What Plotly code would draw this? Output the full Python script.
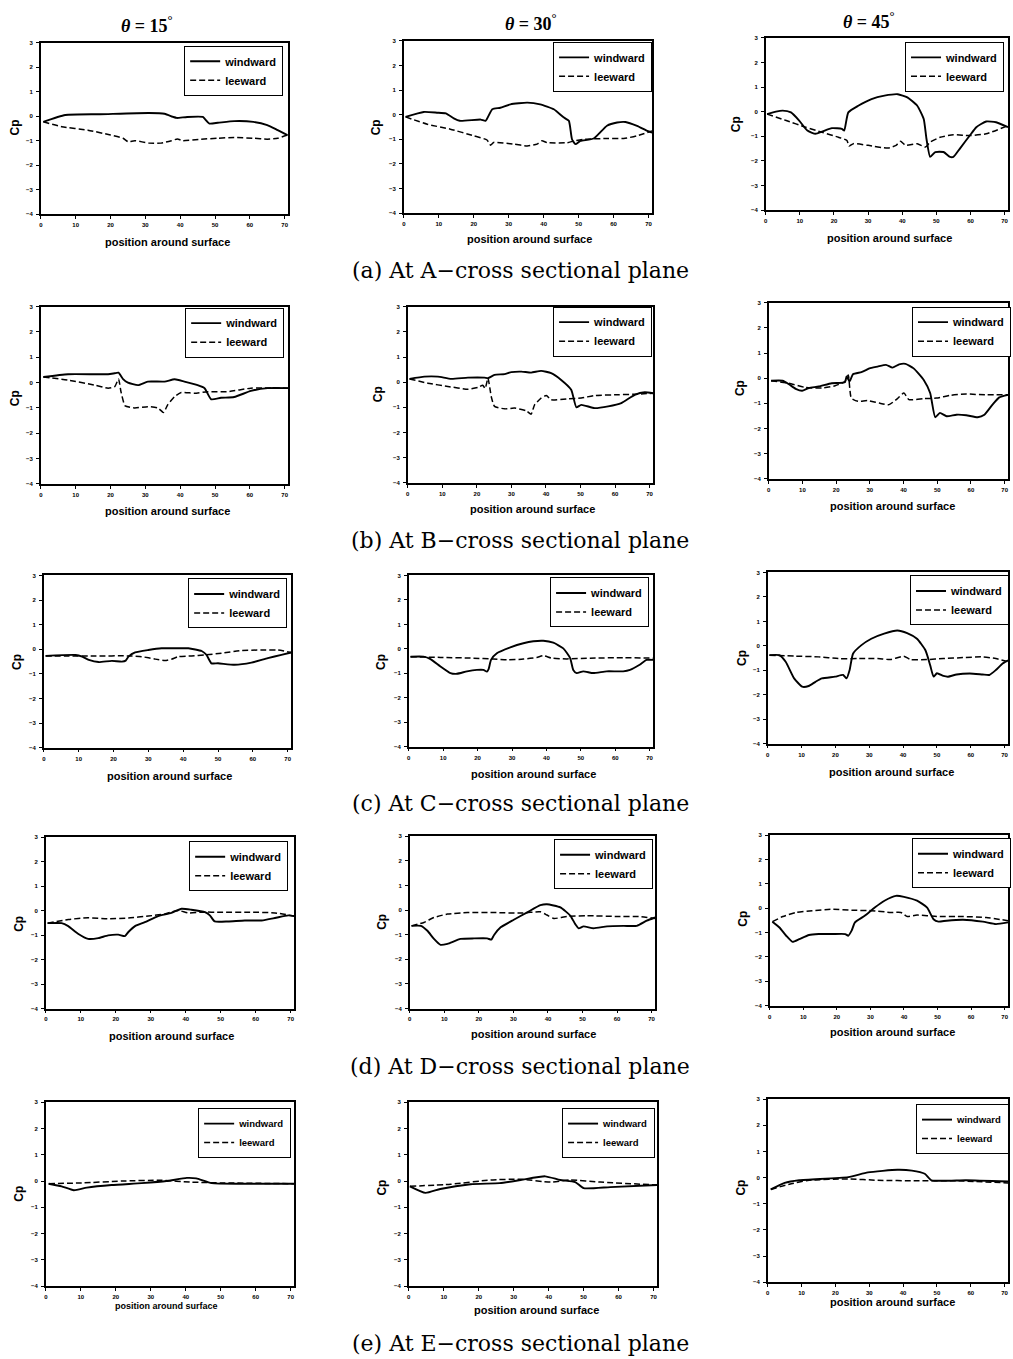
import plotly.graph_objects as go

W, H = 1013, 1359

# ---------------- data (Cp vs position around surface) ----------------
A15_WIND_X = [0.7, 7, 17, 31, 35.5, 38, 39, 42, 46.5, 47, 48.4, 50.8, 55.5, 61, 65, 68, 70.8]
A15_WIND_Y = [-0.23, 0.05, 0.08, 0.13, 0.1, -0.03, -0.07, -0.03, -0.03, -0.1, -0.3, -0.27, -0.2, -0.23, -0.36, -0.57, -0.77]
A15_LEE_X = [0.7, 6, 13.5, 20, 23.6, 25, 27, 31, 34.5, 37.5, 39.2, 40.7, 46, 50.8, 55.5, 61, 65, 68, 70.8]
A15_LEE_Y = [-0.23, -0.43, -0.57, -0.77, -0.9, -1.04, -1.0, -1.1, -1.1, -1.0, -0.93, -1.0, -0.94, -0.9, -0.87, -0.9, -0.94, -0.9, -0.77]

A30_WIND_X = [0.5, 5.7, 9.5, 12, 14.3, 16, 22, 23.4, 25.3, 27.6, 30.5, 35.3, 39, 42.9, 45.8, 47.2, 48.1, 49.1, 50.5, 54.3, 58.1, 61, 63.4, 66.7, 69.6, 71]
A30_WIND_Y = [-0.09, 0.11, 0.08, 0.05, -0.15, -0.25, -0.2, -0.25, 0.22, 0.28, 0.42, 0.49, 0.42, 0.22, -0.12, -0.25, -1.0, -1.2, -1.07, -0.97, -0.45, -0.32, -0.3, -0.46, -0.66, -0.73]
A30_LEE_X = [0.5, 6.7, 13.3, 20, 23.8, 24.8, 25.7, 31.4, 35.3, 38.1, 39.5, 41, 46.7, 48.6, 51.5, 58, 62.9, 66.7, 71]
A30_LEE_Y = [-0.09, -0.39, -0.59, -0.86, -1.03, -1.24, -1.13, -1.2, -1.27, -1.2, -1.06, -1.14, -1.14, -1.07, -1.0, -0.97, -0.97, -0.86, -0.66]

A45_WIND_X = [0.4, 3, 5, 7.4, 9.8, 12.2, 14.6, 16.5, 19.4, 22.3, 23, 24.2, 27.1, 31, 34.8, 38.7, 41.5, 44.4, 46.3, 47.1, 48.2, 49.7, 52.1, 54, 55, 56.9, 59.8, 61.7, 64.6, 67.5, 71]
A45_WIND_Y = [-0.1, 0, 0.04, -0.03, -0.36, -0.77, -0.9, -0.81, -0.67, -0.7, -0.77, -0.03, 0.24, 0.51, 0.65, 0.71, 0.58, 0.24, -0.3, -1.1, -1.84, -1.64, -1.64, -1.84, -1.84, -1.5, -0.97, -0.63, -0.4, -0.43, -0.63]
A45_LEE_X = [0.4, 6, 11.7, 16.5, 21.3, 23.8, 24.4, 25.7, 30, 35.8, 38.2, 39.5, 41, 44.4, 46.8, 48.2, 51.1, 55, 59.8, 64.6, 71]
A45_LEE_Y = [-0.1, -0.36, -0.63, -0.84, -1.04, -1.17, -1.4, -1.3, -1.37, -1.48, -1.37, -1.2, -1.37, -1.3, -1.44, -1.24, -1.04, -0.94, -0.97, -0.9, -0.57]

B15_WIND_X = [0.7, 7.8, 19.3, 21.2, 22.3, 23.6, 25, 27.9, 30.7, 35.5, 38.4, 41.2, 45, 47, 48.9, 51.7, 55.5, 60.3, 65.1, 71]
B15_WIND_Y = [0.22, 0.33, 0.33, 0.37, 0.39, 0.14, 0, -0.1, 0.04, 0.04, 0.13, 0.04, -0.1, -0.22, -0.66, -0.6, -0.57, -0.33, -0.22, -0.22]
B15_LEE_X = [0.7, 7.8, 15.5, 19.3, 21.2, 22.3, 23, 24.2, 26.9, 30.7, 33.6, 35.2, 36.4, 38.4, 40.3, 44.1, 47.9, 53.6, 60.3, 71]
B15_LEE_Y = [0.22, 0.1, -0.1, -0.22, -0.16, 0.14, -0.36, -0.92, -1.0, -0.95, -1.0, -1.18, -0.88, -0.55, -0.39, -0.42, -0.36, -0.36, -0.22, -0.22]

B30_WIND_X = [0.5, 4.8, 8.7, 12.6, 17.4, 22.2, 23.2, 25.1, 28, 30, 32.9, 35.7, 38.6, 41.5, 44.4, 47.3, 48.8, 50.2, 54.1, 58, 61.8, 65.7, 68.6, 71]
B30_WIND_Y = [0.13, 0.22, 0.22, 0.13, 0.18, 0.18, 0.16, 0.29, 0.32, 0.4, 0.42, 0.38, 0.45, 0.36, 0.09, -0.3, -1.0, -0.9, -1.03, -0.96, -0.83, -0.5, -0.4, -0.44]
B30_LEE_X = [0.5, 5.8, 11.6, 17.4, 20.3, 21.7, 22.4, 23.2, 24.2, 25.1, 28, 30.9, 34.3, 35.7, 36.7, 38.6, 40.1, 41.5, 46.4, 50.2, 54.1, 60.8, 65.7, 71]
B30_LEE_Y = [0.13, -0.04, -0.17, -0.28, -0.21, -0.12, -0.25, 0.16, -0.6, -0.96, -1.06, -1.03, -1.14, -1.27, -0.9, -0.63, -0.53, -0.7, -0.66, -0.63, -0.53, -0.5, -0.48, -0.44]

B45_WIND_X = [0.7, 4.1, 6, 8, 9.9, 11.9, 14.8, 18.7, 22.6, 23.1, 24, 25, 27.5, 29, 29.9, 32.3, 34.8, 36.7, 38.7, 40.6, 43, 46, 47.9, 49.4, 50.8, 52.8, 55.7, 58.6, 62, 64, 66.4, 68.4, 71]
B45_WIND_Y = [-0.1, -0.1, -0.24, -0.42, -0.5, -0.39, -0.33, -0.2, -0.16, 0.07, -0.13, 0.16, 0.24, 0.33, 0.39, 0.46, 0.53, 0.42, 0.55, 0.57, 0.39, -0.07, -0.59, -1.55, -1.38, -1.51, -1.45, -1.47, -1.55, -1.45, -1.05, -0.76, -0.66]
B45_LEE_X = [0.7, 6, 10.9, 15.8, 19.7, 22.6, 23.6, 24.5, 26.5, 29.4, 32.8, 35.7, 38.2, 40.1, 41.6, 46, 49.8, 53.8, 58.6, 64.4, 71]
B45_LEE_Y = [-0.1, -0.2, -0.37, -0.39, -0.3, -0.13, 0.13, -0.79, -0.92, -0.89, -0.99, -1.05, -0.81, -0.59, -0.85, -0.81, -0.79, -0.68, -0.63, -0.66, -0.66]

C15_WIND_X = [0.5, 9.1, 11, 12.9, 15.7, 19.5, 22.4, 23.5, 24.3, 26.2, 30, 33.8, 37.7, 41.5, 45.3, 46.7, 48.1, 50, 54.8, 59.6, 64.3, 68.2, 71]
C15_WIND_Y = [-0.27, -0.23, -0.3, -0.43, -0.52, -0.47, -0.5, -0.46, -0.3, -0.13, -0.03, 0.04, 0.04, 0.04, -0.07, -0.23, -0.57, -0.57, -0.63, -0.54, -0.36, -0.23, -0.13]
C15_LEE_X = [0.5, 7.1, 14.8, 24.3, 28.1, 32, 34.8, 36.7, 38.6, 42.4, 46.2, 51, 56.7, 62.4, 67.2, 71]
C15_LEE_Y = [-0.27, -0.27, -0.27, -0.27, -0.3, -0.4, -0.46, -0.4, -0.3, -0.27, -0.23, -0.16, -0.05, -0.03, -0.03, -0.13]

C30_WIND_X = [0.5, 4.3, 6.3, 9.2, 12.1, 14, 16.9, 19.8, 21.7, 22.7, 23.2, 23.9, 25.6, 29.5, 33.3, 36.2, 39.1, 42, 44.9, 46.9, 47.8, 48.8, 50.7, 53.6, 57.5, 62.3, 64.3, 67.1, 69.1, 71]
C30_WIND_Y = [-0.32, -0.32, -0.42, -0.72, -0.99, -1.02, -0.92, -0.86, -0.86, -0.93, -0.83, -0.45, -0.18, 0.06, 0.23, 0.31, 0.33, 0.25, 0.02, -0.38, -0.86, -0.99, -0.92, -0.99, -0.92, -0.92, -0.86, -0.65, -0.45, -0.45]
C30_LEE_X = [0.5, 9.2, 18.8, 24.6, 28.5, 33.3, 37.2, 39.1, 41.5, 45.9, 52.7, 62.3, 71]
C30_LEE_Y = [-0.32, -0.35, -0.38, -0.42, -0.45, -0.42, -0.35, -0.28, -0.38, -0.41, -0.38, -0.36, -0.38]

C45_WIND_X = [0.5, 3.4, 5.3, 7.8, 10.2, 12.1, 14.1, 16, 19.9, 22.3, 23.3, 24.2, 25.2, 27.6, 30.6, 34.4, 38.3, 41.2, 44.1, 46.6, 48, 49, 50, 51.9, 53.3, 55.8, 59.7, 63.5, 65.5, 67.4, 69.4, 71]
C45_WIND_Y = [-0.38, -0.38, -0.65, -1.33, -1.67, -1.64, -1.47, -1.33, -1.26, -1.19, -1.33, -0.99, -0.32, 0.02, 0.29, 0.5, 0.63, 0.52, 0.29, -0.18, -0.79, -1.26, -1.12, -1.23, -1.26, -1.17, -1.13, -1.17, -1.19, -0.99, -0.72, -0.59]
C45_LEE_X = [0.5, 8.2, 15, 20.9, 26.6, 32.5, 36.3, 40.2, 42.2, 47, 51.9, 57.7, 63.5, 67.4, 71]
C45_LEE_Y = [-0.38, -0.42, -0.45, -0.52, -0.52, -0.52, -0.56, -0.42, -0.56, -0.56, -0.52, -0.48, -0.45, -0.52, -0.65]

D15_WIND_X = [0.5, 4.5, 6.4, 9.2, 12.1, 15, 17.8, 20.7, 22.6, 23.6, 25.5, 28.3, 32.1, 35.9, 38.8, 41.6, 45.5, 46.9, 48.3, 52.1, 56.9, 61.7, 65.5, 69.3, 71]
D15_WIND_Y = [-0.51, -0.51, -0.63, -0.94, -1.15, -1.12, -1.01, -0.98, -1.04, -0.87, -0.63, -0.47, -0.22, -0.09, 0.08, 0.04, -0.06, -0.19, -0.44, -0.44, -0.4, -0.4, -0.3, -0.19, -0.22]
D15_LEE_X = [0.5, 6.4, 12.1, 17.8, 23.6, 29.3, 34, 37.8, 40.7, 44.5, 50.2, 57.8, 65.5, 71]
D15_LEE_Y = [-0.51, -0.36, -0.29, -0.33, -0.3, -0.22, -0.13, 0.01, -0.09, -0.06, -0.06, -0.06, -0.09, -0.22]

D30_WIND_X = [0.5, 3.2, 5.1, 7, 8.9, 10.9, 14.7, 18.6, 22.4, 23.6, 24.4, 26.3, 30.1, 34, 37.8, 39.7, 43.6, 46.5, 47.9, 48.9, 50.3, 53.2, 57.1, 61.9, 65.7, 68.6, 71]
D30_WIND_Y = [-0.64, -0.64, -0.84, -1.17, -1.41, -1.37, -1.17, -1.15, -1.15, -1.2, -1.01, -0.7, -0.39, -0.09, 0.2, 0.24, 0.11, -0.23, -0.57, -0.74, -0.66, -0.74, -0.66, -0.64, -0.64, -0.43, -0.3]
D30_LEE_X = [0.5, 4.1, 7, 10.9, 16.7, 24.4, 32.1, 37.8, 39.7, 41.7, 45.5, 51.3, 60.9, 66.7, 71]
D30_LEE_Y = [-0.64, -0.5, -0.3, -0.16, -0.1, -0.1, -0.12, -0.07, -0.2, -0.34, -0.26, -0.23, -0.26, -0.26, -0.34]

D45_WIND_X = [0.8, 2.9, 4.9, 6.8, 8.8, 11.7, 14.6, 18.6, 22.5, 23.4, 24.4, 25.4, 28.3, 31.3, 34.2, 37.6, 40, 43.9, 46.9, 48.8, 50.3, 52.7, 57.6, 63.5, 67.4, 71]
D45_WIND_Y = [-0.55, -0.79, -1.13, -1.38, -1.27, -1.1, -1.06, -1.06, -1.06, -1.13, -0.92, -0.58, -0.31, 0.03, 0.31, 0.51, 0.47, 0.31, 0.03, -0.45, -0.55, -0.51, -0.47, -0.55, -0.65, -0.58]
D45_LEE_X = [0.8, 3.9, 7.8, 12.7, 18.6, 24.4, 30.3, 36.1, 39.1, 41, 43.9, 49.8, 57.6, 64.5, 71]
D45_LEE_Y = [-0.55, -0.34, -0.17, -0.1, -0.04, -0.08, -0.1, -0.17, -0.17, -0.34, -0.28, -0.34, -0.34, -0.38, -0.51]

E15_WIND_X = [0.8, 4.5, 8, 11.7, 18.8, 27.4, 34.5, 40.3, 43, 47.4, 56, 71]
E15_WIND_Y = [-0.1, -0.2, -0.35, -0.25, -0.15, -0.08, 0.0, 0.12, 0.1, -0.08, -0.1, -0.1]
E15_LEE_X = [0.8, 10.3, 21.7, 33, 41.6, 50.1, 71]
E15_LEE_Y = [-0.1, -0.07, 0.0, 0.03, -0.04, -0.07, -0.1]

E30_WIND_X = [0.3, 4.8, 9, 17.7, 26, 32, 39, 43.3, 47.6, 50, 57.6, 71]
E30_WIND_Y = [-0.2, -0.45, -0.3, -0.12, -0.08, 0.04, 0.18, 0.04, -0.04, -0.27, -0.23, -0.15]
E30_LEE_X = [0.3, 12, 23.4, 32, 40.5, 46.2, 54.8, 71]
E30_LEE_Y = [-0.2, -0.12, 0.04, 0.07, -0.04, 0.04, -0.04, -0.15]

E45_WIND_X = [0.9, 5, 9.3, 23.8, 29.6, 38.3, 42.6, 46.4, 48.4, 58.6, 71]
E45_WIND_Y = [-0.45, -0.2, -0.1, 0.02, 0.2, 0.3, 0.27, 0.15, -0.1, -0.1, -0.15]
E45_LEE_X = [0.9, 6.4, 12.2, 23.8, 32.5, 44, 55.7, 71]
E45_LEE_Y = [-0.45, -0.25, -0.1, -0.05, -0.1, -0.12, -0.12, -0.2]

SERIES_NAMES = ["windward", "leeward"]
ANGLE_TITLES = ["<i>θ</i> = 15<sup>°</sup>", "<i>θ</i> = 30<sup>°</sup>", "<i>θ</i> = 45<sup>°</sup>"]
CAPTIONS = ["(a) At A\u2212cross sectional plane", "(b) At B\u2212cross sectional plane",
            "(c) At C\u2212cross sectional plane", "(d) At D\u2212cross sectional plane",
            "(e) At E\u2212cross sectional plane"]
X_TICKS = [0, 10, 20, 30, 40, 50, 60, 70]
Y_TICKS = [-4, -3, -2, -1, 0, 1, 2, 3]
X_LABEL = "position around surface"
Y_LABEL = "Cp"

PANELS = [
    (A15_WIND_X, A15_WIND_Y, A15_LEE_X, A15_LEE_Y),
    (A30_WIND_X, A30_WIND_Y, A30_LEE_X, A30_LEE_Y),
    (A45_WIND_X, A45_WIND_Y, A45_LEE_X, A45_LEE_Y),
    (B15_WIND_X, B15_WIND_Y, B15_LEE_X, B15_LEE_Y),
    (B30_WIND_X, B30_WIND_Y, B30_LEE_X, B30_LEE_Y),
    (B45_WIND_X, B45_WIND_Y, B45_LEE_X, B45_LEE_Y),
    (C15_WIND_X, C15_WIND_Y, C15_LEE_X, C15_LEE_Y),
    (C30_WIND_X, C30_WIND_Y, C30_LEE_X, C30_LEE_Y),
    (C45_WIND_X, C45_WIND_Y, C45_LEE_X, C45_LEE_Y),
    (D15_WIND_X, D15_WIND_Y, D15_LEE_X, D15_LEE_Y),
    (D30_WIND_X, D30_WIND_Y, D30_LEE_X, D30_LEE_Y),
    (D45_WIND_X, D45_WIND_Y, D45_LEE_X, D45_LEE_Y),
    (E15_WIND_X, E15_WIND_Y, E15_LEE_X, E15_LEE_Y),
    (E30_WIND_X, E30_WIND_Y, E30_LEE_X, E30_LEE_Y),
    (E45_WIND_X, E45_WIND_Y, E45_LEE_X, E45_LEE_Y),
]

# ---------------- layout geometry (pixels) ----------------
# plot boxes: left, right, top, bottom
BOXES = [
    (39, 287, 40, 212), (403, 652, 38, 211), (766, 1009, 35, 208),
    (39, 287, 305, 483), (407, 653, 305, 482), (769, 1009, 301, 478),
    (42, 290, 575, 748), (408, 653, 575, 747), (768, 1009, 572, 744),
    (44, 293, 838, 1010), (409, 655, 837, 1010), (770, 1009, 836, 1007),
    (44, 293, 1104, 1289), (408, 657, 1104, 1289), (768, 1009, 1101, 1285),
]
# legend box right/top
LEG_POS = [
    (282, 43), (652, 39), (1005, 39),
    (283, 306), (652, 305), (1012, 305),
    (286, 578), (649, 577), (1010, 575),
    (287, 842), (653, 840), (1012, 839),
    (290, 1110), (655, 1110), (1010, 1106),
]
XLAB_POS = [
    (166, 240), (529, 237), (890, 236),
    (166, 510), (532, 508), (893, 505),
    (168, 776), (533, 774), (892, 772),
    (170, 1038), (533, 1036), (893, 1034),
    (165, 1309), (536, 1313), (893, 1305),
]
YLAB_POS = [
    (13, 125), (376, 125), (737, 122),
    (13, 397), (377, 393), (740, 387),
    (15, 662), (380, 662), (742, 658),
    (17, 925), (381, 923), (743, 920),
    (17, 1196), (381, 1190), (741, 1190),
]
TITLE_POS = [(145, 22), (531, 20), (870, 18)]
CAPTION_Y = [269, 540, 804, 1068, 1346]


def px(x):
    return x / W


def py(y):
    return 1 - y / H


fig = go.Figure()
annotations = []
layout = {}
AX_FONT = "Liberation Sans, Arial, sans-serif"

for i, (wx, wy, lx, ly) in enumerate(PANELS):
    n = i + 1
    sfx = "" if n == 1 else str(n)
    legname = "legend" + sfx
    small = i >= 12
    fig.add_trace(go.Scatter(x=wx, y=wy, mode="lines", name=SERIES_NAMES[0],
                             line=dict(color="black", width=1.9, shape="spline", smoothing=0.5),
                             xaxis="x" + sfx, yaxis="y" + sfx, legend=legname))
    fig.add_trace(go.Scatter(x=lx, y=ly, mode="lines", name=SERIES_NAMES[1],
                             line=dict(color="black", width=1.5, dash="6px,3px",
                                       shape="spline", smoothing=0.5),
                             xaxis="x" + sfx, yaxis="y" + sfx, legend=legname))
    l, r, t, b = BOXES[i]
    common = dict(showline=True, mirror=True, linecolor="black", linewidth=1.5,
                  ticks="outside", ticklen=3, tickwidth=1.2, tickcolor="black",
                  showgrid=False, zeroline=False,
                  tickfont=dict(family=AX_FONT, size=6, color="black", weight="bold"))
    layout["xaxis" + sfx] = dict(common, domain=[px(l), px(r)], anchor="y" + sfx,
                                 range=[0, 71], tickvals=X_TICKS, ticklabelstandoff=1)
    layout["yaxis" + sfx] = dict(common, domain=[py(b), py(t)], anchor="x" + sfx,
                                 range=[-4, 3], tickvals=Y_TICKS, ticklabelstandoff=2)
    lr, lt = LEG_POS[i]
    layout[legname] = dict(x=px(lr), y=py(lt), xanchor="right", yanchor="top",
                           bgcolor="white", bordercolor="black", borderwidth=1,
                           font=dict(family=AX_FONT, size=9.5 if small else 11,
                                     color="black", weight="bold"),
                           itemwidth=30, tracegroupgap=0)
    xl, yl = XLAB_POS[i]
    annotations.append(dict(x=px(xl), y=py(yl), xref="paper", yref="paper",
                            xanchor="center", yanchor="middle",
                            text=X_LABEL, showarrow=False,
                            font=dict(family=AX_FONT, size=9 if i == 12 else 11,
                                      color="black", weight="bold")))
    cx, cy = YLAB_POS[i]
    annotations.append(dict(x=px(cx), y=py(cy), xref="paper", yref="paper",
                            xanchor="center", yanchor="middle",
                            text=Y_LABEL, showarrow=False, textangle=-90,
                            font=dict(family=AX_FONT, size=12, color="black", weight="bold")))

for j, (tx, ty) in enumerate(TITLE_POS):
    annotations.append(dict(x=px(tx), y=py(ty), xref="paper", yref="paper",
                            xanchor="center", yanchor="middle",
                            text=ANGLE_TITLES[j], showarrow=False,
                            font=dict(family="Liberation Serif, Times New Roman, serif",
                                      size=18, color="black", weight="bold")))

for k, cyy in enumerate(CAPTION_Y):
    annotations.append(dict(x=px(520), y=py(cyy), xref="paper", yref="paper",
                            xanchor="center", yanchor="middle",
                            text=CAPTIONS[k], showarrow=False,
                            font=dict(family="DejaVu Serif, serif", size=22, color="black")))

fig.update_layout(width=W, height=H, margin=dict(l=0, r=0, t=0, b=0),
                  paper_bgcolor="white", plot_bgcolor="white",
                  annotations=annotations, **layout)

fig.write_html("out.html", config={"displayModeBar": False},
               post_script="document.body.style.margin='0';document.body.style.overflow='hidden';")
